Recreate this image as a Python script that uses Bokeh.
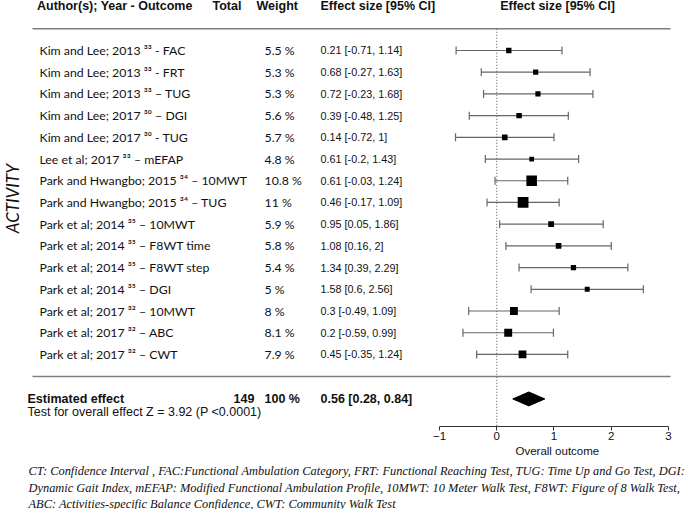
import numpy as np
from bokeh.plotting import figure
from bokeh.layouts import column
from bokeh.models import Range1d, FixedTicker, Whisker, TeeHead, ColumnDataSource, Title
from bokeh.core.properties import value
from bokeh.embed import file_html
from bokeh.resources import INLINE

# ---------------- data ----------------
studies = [
    "Kim and Lee; 2013 \u00b3\u00b3 - FAC",
    "Kim and Lee; 2013 \u00b3\u00b3 - FRT",
    "Kim and Lee; 2013 \u00b3\u00b3 \u2013 TUG",
    "Kim and Lee; 2017 \u00b3\u2070 \u2013 DGI",
    "Kim and Lee; 2017 \u00b3\u2070 - TUG",
    "Lee et al; 2017 \u00b3\u00b3 \u2013 mEFAP",
    "Park and Hwangbo; 2015 \u00b3\u2074 \u2013 10MWT",
    "Park and Hwangbo; 2015 \u00b3\u2074 \u2013 TUG",
    "Park et al; 2014 \u00b3\u2075 \u2013 10MWT",
    "Park et al; 2014 \u00b3\u2075 \u2013 F8WT time",
    "Park et al; 2014 \u00b3\u2075 \u2013 F8WT step",
    "Park et al; 2014 \u00b3\u2075 \u2013 DGI",
    "Park et al; 2017 \u00b3\u00b2 \u2013 10MWT",
    "Park et al; 2017 \u00b3\u00b2 \u2013 ABC",
    "Park et al; 2017 \u00b3\u00b2 \u2013 CWT",
]
weights = [5.5, 5.3, 5.3, 5.6, 5.7, 4.8, 10.8, 11, 5.9, 5.8, 5.4, 5, 8, 8.1, 7.9]
effects = [0.21, 0.68, 0.72, 0.39, 0.14, 0.61, 0.61, 0.46, 0.95, 1.08, 1.34, 1.58, 0.3, 0.2, 0.45]
lowers = [-0.71, -0.27, -0.23, -0.48, -0.72, -0.2, -0.03, -0.17, 0.05, 0.16, 0.39, 0.6, -0.49, -0.59, -0.35]
uppers = [1.14, 1.63, 1.68, 1.25, 1, 1.43, 1.24, 1.09, 1.86, 2, 2.29, 2.56, 1.09, 0.99, 1.24]

pooled_total = 149
pooled_weight = 100
pooled_effect = 0.56
pooled_lower = 0.28
pooled_upper = 0.84
overall_test = "Test for overall effect Z = 3.92 (P <0.0001)"

x_ticks = [-1, 0, 1, 2, 3]
x_axis_label = "Overall outcome"
headers = ["Author(s); Year - Outcome", "Total", "Weight", "Effect size [95% CI]", "Effect size [95% CI]"]
group_label = "ACTIVITY"

footer_lines = [
    "CT: Confidence Interval , FAC:Functional Ambulation Category, FRT: Functional Reaching Test, TUG: Time Up and Go Test, DGI:",
    "Dynamic Gait Index, mEFAP: Modified Functional Ambulation Profile, 10MWT: 10 Meter Walk Test, F8WT: Figure of 8 Walk Test,",
    "ABC: Activities-specific Balance Confidence, CWT: Community Walk Test",
]

# ---------------- layout constants ----------------
W = 685
TOTAL_H = 510
FRAME_H = 426
MAIN_H_EST = 457                # frame + axis + axis title
X0, X1 = -8.668, 3.297          # data range across the full width
Y_TOP, Y_BOT = -2.303, 17.319   # row units (row 0 = first study)

X_LABEL = -7.987
X_HDR_AUTHOR = -8.03
X_HDR_TOTAL = -4.965
X_HDR_WEIGHT = -4.196
X_WEIGHT = -4.056
X_EFFECT = -3.078
X_TOTAL_VAL = -4.598
X_EST = -8.196
X_HDR_PLOT = 1.061
X_GROUP = -8.458
AXIS_TITLE_LEFT_PX = 515
FOOT_LEFT_PX = 28
SEP_X0, SEP_X1 = -8.109, 3.035

Y_HDR = -2.03
Y_SEP_TOP = -1.0
Y_SEP_BOT = 15.02
Y_EST = 16.05
Y_TEST = 16.67
Y_GROUP = 6.82
DIAMOND_H = 0.32

SANS = value("Liberation Sans")
HUMAN = value("Lato")
BLACK = "#111111"

rows = np.arange(len(studies))
src = ColumnDataSource(dict(
    y=rows,
    study=studies,
    eff=effects,
    lo=lowers,
    hi=uppers,
    size=[w * 0.98 for w in weights],
    wlab=[f"{w:g} %" for w in weights],
    elab=[f"{e:g} [{l:g}, {u:g}]" for e, l, u in zip(effects, lowers, uppers)],
))

p = figure(frame_width=W, frame_height=FRAME_H,
           x_range=Range1d(X0, X1), y_range=Range1d(Y_BOT, Y_TOP),
           output_backend="svg", toolbar_location=None,
           y_axis_location=None,
           min_border_left=0, min_border_right=0, min_border_top=0, min_border_bottom=0)
p.outline_line_color = None
p.xgrid.visible = False
p.ygrid.visible = False
p.background_fill_color = "white"

ax = p.xaxis[0]
ax.ticker = FixedTicker(ticks=x_ticks)
ax.bounds = (x_ticks[0], x_ticks[-1])
ax.major_label_text_font = "Liberation Sans"
ax.major_label_text_font_size = "11.5px"
ax.major_label_text_color = BLACK
ax.major_label_standoff = 1
ax.major_tick_in = 0
ax.major_tick_out = 4
ax.minor_tick_out = 0
ax.minor_tick_in = 0
ax.axis_line_color = "#333333"
ax.major_tick_line_color = "#333333"

p.add_layout(Title(text=x_axis_label, align="left", offset=AXIS_TITLE_LEFT_PX, standoff=0,
                   text_font="Liberation Sans", text_font_style="normal",
                   text_font_size="11.5px", text_color=BLACK), "below")

# separators and reference line
p.segment(x0=[SEP_X0, SEP_X0], x1=[SEP_X1, SEP_X1], y0=[Y_SEP_TOP, Y_SEP_BOT], y1=[Y_SEP_TOP, Y_SEP_BOT],
          line_color="#7f7f7f", line_width=1.5)
p.segment(x0=[0], x1=[0], y0=[Y_SEP_TOP], y1=[Y_BOT], line_color="#555555", line_width=1, line_dash="1 2")

# confidence intervals
wh = Whisker(source=src, base="y", lower="lo", upper="hi", dimension="width",
             line_color="#666666", line_width=1.2,
             lower_head=TeeHead(size=8, line_color="#666666", line_width=1.2),
             upper_head=TeeHead(size=8, line_color="#666666", line_width=1.2))
p.add_layout(wh)

p.scatter(x="eff", y="y", size="size", marker="square", source=src,
          fill_color="black", line_color="black", line_width=0)

# pooled diamond
p.patch(x=[pooled_lower, pooled_effect, pooled_upper, pooled_effect],
        y=[Y_EST, Y_EST - DIAMOND_H, Y_EST, Y_EST + DIAMOND_H],
        fill_color="black", line_color="black")

# header
hx = [X_HDR_AUTHOR, X_HDR_TOTAL, X_HDR_WEIGHT, X_EFFECT]
p.text(x=hx, y=[Y_HDR] * 4, text=headers[:4], text_font=SANS, text_font_style="bold",
       text_font_size="12.5px", text_baseline="middle", text_align="left", text_color=BLACK)
p.text(x=[X_HDR_PLOT], y=[Y_HDR], text=[headers[4]], text_font=SANS, text_font_style="bold",
       text_font_size="12.5px", text_baseline="middle", text_align="center", text_color=BLACK)

# study rows
p.text(x=X_LABEL, y="y", text="study", source=src, text_font=HUMAN, text_font_size="12.3px",
       text_baseline="middle", text_align="left", text_color=BLACK)
p.text(x=X_WEIGHT, y="y", text="wlab", source=src, text_font=HUMAN, text_font_size="12.3px",
       text_baseline="middle", text_align="left", text_color=BLACK)
p.text(x=X_EFFECT, y="y", text="elab", source=src, text_font=SANS, text_font_size="10.8px",
       text_baseline="middle", text_align="left", text_color=BLACK)

# pooled row
p.text(x=[X_EST, X_TOTAL_VAL, X_WEIGHT, X_EFFECT], y=[Y_EST] * 4,
       text=["Estimated effect", f"{pooled_total}", f"{pooled_weight} %",
             f"{pooled_effect:g} [{pooled_lower:g}, {pooled_upper:g}]"],
       text_font=SANS, text_font_style="bold", text_font_size="12.5px",
       text_baseline="middle", text_align="left", text_color=BLACK)
p.text(x=[X_EST], y=[Y_TEST], text=[overall_test], text_font=SANS, text_font_size="12.5px",
       text_baseline="middle", text_align="left", text_color=BLACK)

# group label
p.text(x=[X_GROUP], y=[Y_GROUP], text=[group_label], angle=np.pi / 2, text_font=HUMAN,
       text_font_style="italic", text_font_size="17px", text_baseline="middle",
       text_align="center", text_color=BLACK)

# footer figure (local pixel coordinates)
H2 = TOTAL_H - MAIN_H_EST
pf = figure(width=W, height=H2, x_range=Range1d(0, W), y_range=Range1d(H2, 0),
            output_backend="svg", toolbar_location=None,
            min_border_left=0, min_border_right=0, min_border_top=0, min_border_bottom=0)
pf.axis.visible = False
pf.grid.visible = False
pf.outline_line_color = None
foot_y = [471 - MAIN_H_EST, 488.5 - MAIN_H_EST, 504 - MAIN_H_EST]
pf.text(x=[FOOT_LEFT_PX] * 3, y=foot_y, text=footer_lines, text_font=value("Liberation Serif"),
        text_font_style="italic", text_font_size="12.4px", text_baseline="middle",
        text_align="left", text_color=BLACK)

layout = column(p, pf, spacing=0)
open("out.html", "w").write(file_html(layout, INLINE))
